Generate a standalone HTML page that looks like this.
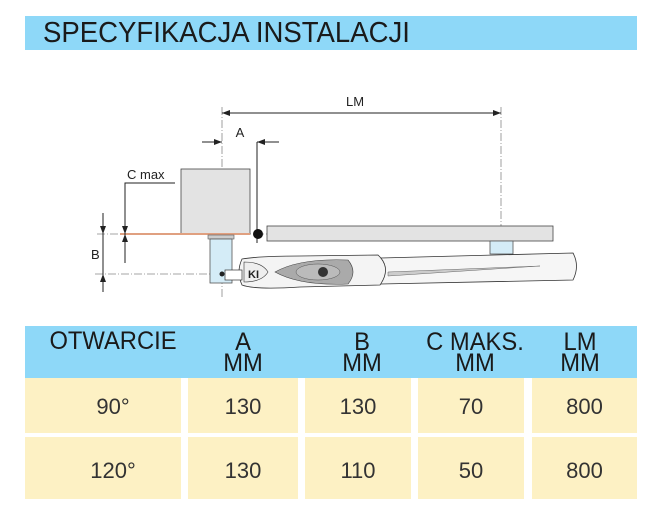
<!DOCTYPE html>
<html><head><meta charset="utf-8"><style>
html,body{margin:0;padding:0;background:#fff;}
body{width:660px;height:521px;position:relative;overflow:hidden;font-family:"Liberation Sans",sans-serif;}
.band{position:absolute;left:25px;top:16px;width:612px;height:34px;background:#8ed8f8;}
.title{position:absolute;left:43px;top:16px;font-size:29px;color:#1a1a1a;white-space:nowrap;transform:scaleX(0.95);transform-origin:0 0;line-height:34px;}
.c{position:absolute;}
.hd{position:absolute;top:326px;height:52px;left:25px;width:612px;background:#8ed8f8;}
.h{position:absolute;font-size:25px;color:#1a1a1a;line-height:21px;text-align:center;transform:scaleX(0.95);}
.y{position:absolute;background:#fdf1c4;}
.n{position:absolute;font-size:22px;color:#333;text-align:center;}
</style></head><body>
<div class="band"></div>
<div class="title">SPECYFIKACJA INSTALACJI</div>

<svg class="c" style="left:0;top:0" width="660" height="320" viewBox="0 0 660 320">
<defs>
<marker id="ar" markerWidth="8" markerHeight="6" refX="8" refY="3" orient="auto" markerUnits="userSpaceOnUse"><path d="M0,0 L8,3 L0,6 z" fill="#222"/></marker>
</defs>
<g stroke="#888" stroke-width="0.8" stroke-dasharray="8,2,1,2" fill="none">
<line x1="222" y1="107" x2="222" y2="298"/>
<line x1="501" y1="107" x2="501" y2="248"/>
<line x1="97" y1="234" x2="285" y2="234"/>
<line x1="95" y1="274" x2="225" y2="274"/>
</g>
<line x1="222" y1="113" x2="501" y2="113" stroke="#222" stroke-width="1" marker-end="url(#ar)"/>
<path d="M222,113 l8,-3 v6 z" fill="#222"/>
<text x="355" y="106" font-size="13" text-anchor="middle" fill="#222">LM</text>
<line x1="202" y1="142" x2="222" y2="142" stroke="#222" marker-end="url(#ar)"/>
<line x1="279" y1="142" x2="257" y2="142" stroke="#222" marker-end="url(#ar)"/>
<line x1="257" y1="142" x2="257" y2="243" stroke="#222"/>
<text x="240" y="137" font-size="13" text-anchor="middle" fill="#222">A</text>
<rect x="181" y="169" width="69" height="65" fill="#e3e3e3" stroke="#444" stroke-width="0.8"/>
<line x1="120" y1="234" x2="250" y2="234" stroke="#e0a080" stroke-width="2"/>
<circle cx="258" cy="234" r="5" fill="#111"/>
<text x="127" y="179" font-size="13" fill="#222">C  max</text>
<polyline points="175,183 125,183 125,234" fill="none" stroke="#222" stroke-width="1"/>
<line x1="125" y1="224" x2="125" y2="234" stroke="#222" marker-end="url(#ar)"/>
<line x1="125" y1="263" x2="125" y2="234" stroke="#222" marker-end="url(#ar)"/>
<line x1="103" y1="213" x2="103" y2="234" stroke="#222" marker-end="url(#ar)"/>
<line x1="103" y1="292" x2="103" y2="274" stroke="#222" marker-end="url(#ar)"/>
<line x1="103" y1="234" x2="103" y2="274" stroke="#222"/>
<text x="91" y="259" font-size="13" fill="#222">B</text>
<rect x="267" y="226" width="286" height="15" fill="#e3e3e3" stroke="#444" stroke-width="0.8"/>
<rect x="208" y="235" width="26" height="4" fill="#ccc" stroke="#555" stroke-width="0.6"/>
<rect x="210" y="239" width="22" height="44" fill="#d4ecf7" stroke="#555" stroke-width="0.8"/>
<rect x="490" y="241" width="23" height="13" fill="#d4ecf7" stroke="#555" stroke-width="0.8"/>
<path d="M380,258 L573,253 Q580,266 573,280 L380,284 Z" fill="#f6f6f6" stroke="#333" stroke-width="0.8"/>
<path d="M388,272 L540,266 L388,276 Z" fill="#ccc" stroke="#666" stroke-width="0.5"/>
<path d="M242,259 Q260,256 300,256 L378,255 Q392,268 380,285 L300,287 Q255,290 242,285 Q236,272 242,259 Z" fill="#f4f4f4" stroke="#333" stroke-width="0.8"/>
<path d="M275,272 Q300,258 348,260 Q358,272 348,284 Q300,286 275,272 Z" fill="#aaa" stroke="#444" stroke-width="0.6"/>
<ellipse cx="318" cy="272" rx="22" ry="8" fill="#bbb" stroke="#555" stroke-width="0.5"/>
<circle cx="323" cy="272" r="5" fill="#333"/>
<path d="M244,262 Q262,262 268,272 Q262,282 244,282 Z" fill="#eee" stroke="#333" stroke-width="0.6"/>
<text x="248" y="278" font-size="11" font-weight="bold" fill="#222">ΚΙ</text>
<rect x="225" y="270" width="17" height="10" fill="#fff" stroke="#333" stroke-width="0.7"/>
<circle cx="222" cy="274" r="2.5" fill="#222"/>
</svg>

<div class="hd"></div>
<div class="h" style="left:25px;width:176px;top:331px;">OTWARCIE</div>
<div class="h" style="left:188px;width:110px;top:332px;">A<br>MM</div>
<div class="h" style="left:305px;width:114px;top:332px;">B<br>MM</div>
<div class="h" style="left:410px;width:130px;top:332px;">C MAKS.<br>MM</div>
<div class="h" style="left:532px;width:96px;top:332px;">LM<br>MM</div>

<div class="y" style="left:25px;top:378px;width:156px;height:55px"></div>
<div class="y" style="left:188px;top:378px;width:110px;height:55px"></div>
<div class="y" style="left:305px;top:378px;width:106px;height:55px"></div>
<div class="y" style="left:418px;top:378px;width:106px;height:55px"></div>
<div class="y" style="left:532px;top:378px;width:105px;height:55px"></div>
<div class="y" style="left:25px;top:437px;width:156px;height:62px"></div>
<div class="y" style="left:188px;top:437px;width:110px;height:62px"></div>
<div class="y" style="left:305px;top:437px;width:106px;height:62px"></div>
<div class="y" style="left:418px;top:437px;width:106px;height:62px"></div>
<div class="y" style="left:532px;top:437px;width:105px;height:62px"></div>

<div class="n" style="left:35px;width:156px;top:394px">90°</div>
<div class="n" style="left:188px;width:110px;top:394px">130</div>
<div class="n" style="left:305px;width:106px;top:394px">130</div>
<div class="n" style="left:418px;width:106px;top:394px">70</div>
<div class="n" style="left:532px;width:105px;top:394px">800</div>
<div class="n" style="left:35px;width:156px;top:458px">120°</div>
<div class="n" style="left:188px;width:110px;top:458px">130</div>
<div class="n" style="left:305px;width:106px;top:458px">110</div>
<div class="n" style="left:418px;width:106px;top:458px">50</div>
<div class="n" style="left:532px;width:105px;top:458px">800</div>
</body></html>
